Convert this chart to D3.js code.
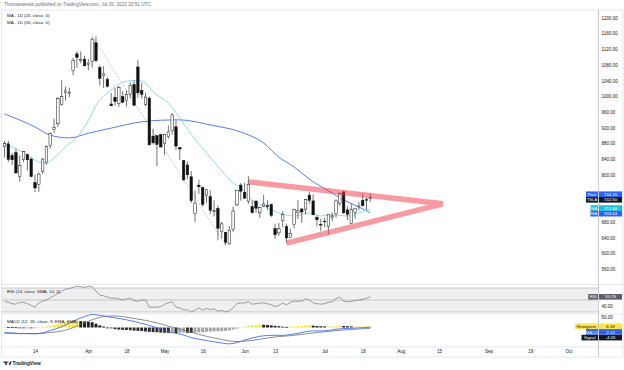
<!DOCTYPE html>
<html>
<head>
<meta charset="UTF-8">
<script src="https://cdnjs.cloudflare.com/ajax/libs/d3/7.8.5/d3.min.js"></script>
<style>
  body { margin: 0; background: #fff; }
  svg { display: block; font-family: "Liberation Sans", Arial, sans-serif; }
  .ax text { fill: #131722; font-size: 4.5px; }
  .ax .domain, .ax line { display: none; }
</style>
</head>
<body>
<svg width="624" height="370"></svg>
<script>
// ---- data (TSLA daily, bar index 0 = Mar 14 2022) ----
var firstIdx = -8;   // Mar 2

var opens = [
  872.1, 878.8, 849.1, 856.3, 795.5, 839.5, 851.5, 840.2, 780.6, 775.3,
  809.0, 831.0, 874.5, 915.0, 930.0, 979.9, 1009.7, 1008.0, 1065.1, 1108.0,
  1091.2, 1094.6, 1081.2, 1089.4, 1136.3, 1073.5, 1052.4, 1043.2, 980.4, 997.6,
  981.1, 999.3, 989.0, 1005.1, 1030.0, 1074.7, 1014.9, 979.0, 995.4, 898.6,
  900.0, 902.7, 880.5, 897.3, 912.1, 922.2, 869.6, 836.0, 825.0, 795.0,
  701.0, 773.5, 767.2, 747.4, 744.5, 707.0, 714.0, 655.0, 653.5, 623.9,
  661.4, 723.3, 773.8, 755.2, 733.0, 719.0, 733.1, 703.0, 720.3, 722.0,
  723.8, 662.7, 652.0, 683.3, 668.2, 640.3, 673.4, 703.4, 713.0, 712.5,
  748.1, 733.5, 691.5, 673.5, 681.0, 669.0, 692.3, 701.8, 727.0, 756.3,
  710.5, 676.5, 704.7, 720.0, 734.8, 735.0, 740.4
];
var highs = [
  886.5, 886.4, 855.7, 866.1, 850.0, 860.6, 854.5, 843.8, 800.7, 805.6,
  842.0, 875.0, 907.9, 942.9, 997.9, 1040.7, 1024.5, 1021.8, 1097.9, 1114.8,
  1114.0, 1103.1, 1094.8, 1149.9, 1152.9, 1079.0, 1076.6, 1048.4, 1008.5, 1021.2,
  1026.2, 1012.7, 1014.9, 1034.9, 1040.0, 1092.2, 1034.9, 1008.6, 1000.0, 918.0,
  900.0, 905.0, 904.5, 925.7, 956.5, 937.8, 871.0, 836.0, 834.0, 809.8,
  759.7, 787.4, 769.8, 764.5, 760.5, 734.7, 721.6, 680.0, 653.9, 669.3,
  718.7, 759.8, 778.8, 779.5, 796.0, 735.0, 734.6, 719.3, 749.0, 734.6,
  727.0, 675.0, 677.1, 707.0, 675.5, 662.9, 713.4, 734.9, 714.8, 738.2,
  756.2, 749.9, 696.0, 688.4, 690.7, 699.4, 703.7, 738.0, 756.0, 759.2,
  719.3, 726.2, 716.0, 730.9, 751.6, 741.4, 752.0
];
var lows = [
  844.3, 832.6, 825.2, 804.6, 782.2, 832.0, 810.4, 793.8, 756.0, 756.6,
  802.3, 825.7, 867.4, 907.1, 921.8, 976.4, 988.8, 997.3, 1053.6, 1073.1,
  1084.0, 1076.6, 1066.6, 1072.5, 1087.3, 1027.7, 1021.5, 1022.4, 974.6, 976.6,
  973.1, 982.2, 973.4, 995.3, 976.5, 996.4, 994.0, 975.3, 875.0, 877.4,
  822.0, 870.0, 850.0, 892.0, 902.0, 862.5, 838.4, 785.0, 788.7, 728.0,
  680.0, 751.6, 719.1, 728.9, 700.8, 694.1, 633.0, 638.1, 620.6, 623.0,
  653.7, 720.5, 734.2, 739.0, 726.0, 701.0, 703.8, 690.0, 717.5, 711.1,
  692.3, 636.7, 644.0, 666.0, 626.1, 639.6, 663.5, 686.7, 677.2, 698.9,
  726.2, 697.0, 668.8, 656.5, 666.4, 648.5, 681.6, 691.0, 720.6, 700.9,
  685.1, 675.1, 688.0, 710.7, 718.8, 710.9, 730.5
];
var closes = [
  879.9, 839.3, 838.3, 804.6, 824.4, 859.0, 838.3, 795.4, 766.4, 801.9,
  840.2, 871.6, 905.4, 921.2, 994.0, 999.1, 1013.9, 1010.6, 1091.8, 1099.6,
  1094.0, 1077.6, 1084.6, 1145.5, 1091.3, 1045.8, 1057.3, 1025.5, 975.9, 987.0,
  1022.4, 985.0, 1004.3, 1028.2, 977.2, 1008.8, 1005.1, 998.0, 876.4, 881.5,
  877.5, 870.8, 902.9, 909.3, 952.6, 873.3, 865.7, 787.1, 800.0, 734.0,
  728.0, 769.6, 724.4, 761.6, 709.8, 709.4, 663.9, 674.9, 628.2, 658.8,
  707.7, 759.6, 758.3, 740.4, 775.0, 703.6, 714.8, 716.7, 725.6, 719.1,
  696.7, 647.2, 662.7, 699.0, 639.3, 650.3, 711.1, 708.3, 705.2, 737.1,
  734.8, 698.0, 685.5, 673.4, 681.8, 699.2, 695.2, 733.6, 752.3, 703.0,
  699.2, 711.1, 714.9, 720.2, 721.6, 736.6, 742.5
];

// moving averages: [bar index, value]
var ma20 = [[-8, 876], [-6, 871], [-2, 850], [1, 833], [3, 830], [5, 843], [8, 871],
  [11, 896], [14, 938], [16, 976], [20, 1016], [23, 1036], [27, 1041], [29, 1034],
  [31, 1011], [35, 983], [38, 945], [41, 903], [45, 856], [49, 810], [52, 779],
  [54, 766], [57, 736], [61, 716], [64, 703], [68, 695], [72, 703], [75, 695],
  [78, 698], [82, 695], [85, 703], [88, 712.68]];
var ma50 = [[-8, 955], [0, 922], [4, 901], [9, 894], [14, 906], [20, 919], [28, 935],
  [33, 939], [38, 940], [46, 927], [54, 909], [60, 881], [64, 845], [68, 820],
  [72, 789], [77, 759], [81, 736], [85, 718], [88, 703.44]];

// drawings: dashed swing line and triangle (bar index, price)
var swingLine = [[15, 1152.9], [50, 620.6]];
var triangle = [[56, 782], [107, 726], [66, 626]];

// RSI (14), one value per bar
var rsi = [
  48, 46, 44, 43, 46, 46, 44, 41, 38, 45,
  48, 50, 54, 57, 61, 64, 68, 69, 71, 73,
  72, 71, 73, 72, 65, 58, 57, 55, 53, 53,
  52, 50, 52, 53, 49, 48, 50, 50, 38, 38,
  38, 39, 43, 45, 47, 38, 37, 33, 34, 30,
  33, 37, 33, 36, 34, 35, 31, 33, 30, 32,
  37, 44, 45, 45, 47, 43, 44, 45, 45, 44,
  42, 39, 41, 45, 42, 46, 48, 48, 48, 52,
  50, 45, 44, 43, 44, 46, 47, 52, 55, 48,
  47, 48, 49, 50, 51, 53, 55.29
];

// MACD (12, 26, 9): lines as [bar index, value], histogram per bar
var macdLine = [[-8, -24], [-4, -29], [0, -30], [2, -25], [4, -15], [7, 4], [9, 21],
  [11, 38], [13, 52], [15, 62], [17, 58], [19, 52], [21, 46], [23, 40], [25, 33],
  [27, 24], [29, 15], [31, 4], [33, -6], [35, -20], [37, -28], [39, -36], [41, -48],
  [43, -56], [45, -62], [47, -68], [49, -74], [51, -78], [53, -72], [55, -60],
  [57, -50], [59, -42], [61, -38], [63, -37], [65, -38], [67, -33], [69, -28],
  [71, -20], [73, -16], [75, -16], [77, -14], [79, -8], [81, -5], [83, -4],
  [85, -2], [87, 0], [88, 2.13]];
var signalLine = [[-8, -27], [-4, -28], [0, -29], [2, -28], [4, -24], [7, -17], [9, -7],
  [11, 7], [13, 22], [15, 37], [17, 48], [19, 54], [21, 55], [23, 52], [25, 46],
  [27, 40], [29, 34], [31, 26], [33, 18], [35, 6], [37, -2], [39, -12], [41, -22],
  [43, -33], [45, -42], [47, -50], [49, -57], [51, -64], [53, -67], [55, -65],
  [57, -62], [59, -56], [61, -50], [63, -45], [65, -42], [67, -39], [69, -35],
  [71, -30], [73, -26], [75, -22], [77, -19], [79, -15], [81, -12], [83, -9],
  [85, -7], [87, -5], [88, -4.05]];
var hist = [
  3, 2.5, 2, 1, -1, -1.5, -1, -1.5, -1, 1,
  3, 6, 9, 13, 17, 21, 25, 28, 30, 31,
  30, 29, 27, 25, 18, 10, 5, 0, -4, -8,
  -10, -11, -12, -13, -15, -16, -17, -19, -21, -22,
  -23, -24, -25, -26, -25, -26, -25, -24, -25, -26,
  -24, -23, -22, -20, -19, -18, -18, -17, -16, -14,
  -10, -5, 0, 5, 9, 12, 13, 14, 13, 12,
  10, 8, 6, 4, 3, 5, 6, 7, 8, 10,
  10, 9, 7, 6, 5, 5, 6, 7, 8, 7,
  6, 5, 5, 5, 5, 5.5, 6.18
];

// axes
var priceTicks = [560, 600, 640, 680, 720, 760, 800, 840, 880, 920, 960, 1000, 1040, 1080, 1120, 1160, 1200];
var rsiTicks = [40, 60];
var macdTicks = [50];
var dateTickIdx = [0, 14, 24, 34, 44, 55, 63, 76, 86, 96, 106, 119, 130, 140];
var dateTickLabels = ["14", "Apr", "18", "May", "16", "Jun", "13", "Jul", "18", "Aug", "15", "Sep", "19", "Oct"];

// last values shown on the right scale
var priceBadgeNames = ["Post", "TSLA", "MA", "MA"];
var priceBadgeValues = [744.30, 742.50, 712.68, 703.44];
var macdBadgeNames = ["Histogram", "MACD", "Signal"];
var macdBadgeValues = [6.18, 2.13, -4.05];

// ---- layout ----
var svg = d3.select("svg");
var plotL = 2, plotR = 598.5;
var mainTop = 10, mainBot = 284.5, rsiTop = 284.5, rsiBot = 314, macdTop = 314, macdBot = 347, frameBot = 357;

var x = d3.scaleLinear().domain([0, 86]).range([35, 362.7]);
var y = d3.scaleLinear().domain([560, 1160]).range([269, 33.5]);
var yR = d3.scaleLinear().domain([30, 70]).range([312, 288]);
var yM = d3.scaleLinear().domain([0, 50]).range([327.5, 317]);

var defs = svg.append("defs");
function clip(id, y0, y1) {
  defs.append("clipPath").attr("id", id).append("rect")
    .attr("x", plotL).attr("y", y0).attr("width", plotR - plotL).attr("height", y1 - y0);
}
clip("cMain", mainTop, mainBot);
clip("cRsi", rsiTop, rsiBot);
clip("cMacd", macdTop, macdBot);

// title
svg.append("text").attr("x", 4).attr("y", 6.3)
  .attr("font-size", "4.7px").attr("fill", "#6a6d78")
  .text("Thomaswestw published on TradingView.com, Jul 20, 2022 20:51 UTC");

// frame and pane separators
var grid = "#dadde4";
svg.append("rect").attr("x", 1.5).attr("y", mainTop).attr("width", 621.5).attr("height", frameBot - mainTop)
  .attr("fill", "none").attr("stroke", grid).attr("stroke-width", 0.7);
[mainBot, rsiBot, macdBot].forEach(function (v) {
  svg.append("line").attr("x1", 1.5).attr("x2", 623).attr("y1", v).attr("y2", v)
    .attr("stroke", grid).attr("stroke-width", 0.7);
});
svg.append("line").attr("x1", plotR).attr("x2", plotR).attr("y1", mainTop).attr("y2", frameBot)
  .attr("stroke", "#b2b5be").attr("stroke-width", 0.7);

// ---- main pane ----
var gMain = svg.append("g").attr("clip-path", "url(#cMain)");
var idxOf = function (i) { return firstIdx + i; };

var lineIP = d3.line().x(function (d) { return x(d[0]); }).y(function (d) { return y(d[1]); });
var smooth = d3.line().curve(d3.curveMonotoneX).x(function (d) { return x(d[0]); }).y(function (d) { return y(d[1]); });

gMain.append("path").attr("d", lineIP(swingLine)).attr("fill", "none")
  .attr("stroke", "#9b9ea6").attr("stroke-width", 0.6).attr("stroke-dasharray", "2,1.6");

gMain.append("path").attr("d", smooth(ma50)).attr("fill", "none")
  .attr("stroke", "#3d6ff2").attr("stroke-width", 0.9);
gMain.append("path").attr("d", smooth(ma20)).attr("fill", "none")
  .attr("stroke", "#6fd3e3").attr("stroke-width", 0.8);

var candles = gMain.append("g");
opens.forEach(function (o, i) {
  var cx = x(idxOf(i)), c = closes[i], up = c >= o;
  candles.append("line").attr("x1", cx).attr("x2", cx)
    .attr("y1", y(highs[i])).attr("y2", y(lows[i]))
    .attr("stroke", "#111").attr("stroke-width", 0.6);
  var top = y(Math.max(o, c)), h = Math.max(0.6, Math.abs(y(o) - y(c)));
  candles.append("rect").attr("x", cx - 1.25).attr("width", 2.5)
    .attr("y", top).attr("height", h)
    .attr("fill", up ? "#ffffff" : "#111").attr("stroke", "#111").attr("stroke-width", 0.5);
});

gMain.append("path").attr("d", lineIP(triangle)).attr("fill", "none")
  .attr("stroke", "#f23645").attr("stroke-opacity", 0.5).attr("stroke-width", 5.5)
  .attr("stroke-linejoin", "miter");

// legend
["MA - 1D (20, close, 0)", "MA - 1D (50, close, 0)"].forEach(function (t, k) {
  svg.append("text").attr("x", 7).attr("y", 17.3 + k * 7).attr("font-size", "4.4px")
    .attr("fill", "#131722").text(t);
});

// ---- RSI pane ----
var gR = svg.append("g").attr("clip-path", "url(#cRsi)");
gR.append("rect").attr("x", plotL).attr("width", plotR - plotL)
  .attr("y", yR(70)).attr("height", yR(30) - yR(70)).attr("fill", "#efeff1");
[70, 50, 30].forEach(function (v) {
  gR.append("line").attr("x1", plotL).attr("x2", plotR).attr("y1", yR(v)).attr("y2", yR(v))
    .attr("stroke", "#a5a7ad").attr("stroke-width", 0.6);
});
gR.append("path").datum(rsi)
  .attr("d", d3.line().x(function (d, i) { return x(idxOf(i)); }).y(function (d) { return yR(d); }))
  .attr("fill", "none").attr("stroke", "#787878").attr("stroke-width", 0.7);
svg.append("text").attr("x", 7).attr("y", 292.8).attr("font-size", "4.4px")
  .attr("fill", "#131722").text("RSI (14, close, SMA, 14, 2)");

// ---- MACD pane ----
var gM = svg.append("g").attr("clip-path", "url(#cMacd)");
var colW = 2.9;
hist.forEach(function (h, i) {
  var prev = i > 0 ? hist[i - 1] : h;
  var col = h >= 0 ? (h >= prev ? "#fbe54a" : "#1e1e1e") : (h < prev ? "#2e2e2e" : "#a2a2a2");
  var y0 = yM(0), y1 = yM(h);
  gM.append("rect").attr("x", x(idxOf(i)) - colW / 2).attr("width", colW)
    .attr("y", Math.min(y0, y1)).attr("height", Math.max(0.8, Math.abs(y1 - y0)))
    .attr("fill", col);
});
var mline = d3.line().curve(d3.curveMonotoneX).x(function (d) { return x(d[0]); }).y(function (d) { return yM(d[1]); });
gM.append("path").attr("d", mline(signalLine)).attr("fill", "none")
  .attr("stroke", "#6e6e6e").attr("stroke-width", 0.8);
gM.append("path").attr("d", mline(macdLine)).attr("fill", "none")
  .attr("stroke", "#3d6ff2").attr("stroke-width", 0.9);
svg.append("text").attr("x", 7).attr("y", 323.2).attr("font-size", "4.4px")
  .attr("fill", "#131722").text("MACD (12, 26, close, 9, EMA, EMA)");

// ---- time axis ----
svg.append("g").attr("class", "ax").attr("transform", "translate(0," + (macdBot + 2.5) + ")")
  .call(d3.axisBottom(x).tickValues(dateTickIdx).tickSize(0).tickPadding(0)
    .tickFormat(function (d, i) { return dateTickLabels[i]; }));

// ---- right-scale badges (placed first, tick labels they cover are dropped) ----
var bh = 5.6;
function place(vals, scale, centre) {
  var ys = vals.map(scale);
  if (centre) {
    for (var k = 0; k < 30; k++) {
      for (var i = 1; i < ys.length; i++) {
        var g = ys[i] - ys[i - 1];
        if (g < bh) { var d = (bh - g) / 2; ys[i - 1] -= d; ys[i] += d; }
      }
    }
  } else {
    for (var j = 1; j < ys.length; j++) ys[j] = Math.max(ys[j], ys[j - 1] + bh + 0.1);
  }
  return ys;
}
var priceY = place(priceBadgeValues, y, true);
var rsiY = [yR(rsi[rsi.length - 1])];
var macdY = place(macdBadgeValues, yM, false);

function freeTicks(ticks, scale, taken) {
  return ticks.filter(function (t) {
    return taken.every(function (b) { return Math.abs(scale(t) - b) > bh / 2 + 2.4; });
  });
}
function rightAxis(scale, ticks, taken) {
  svg.append("g").attr("class", "ax").attr("transform", "translate(" + (plotR + 3) + ",0)")
    .call(d3.axisRight(scale).tickValues(freeTicks(ticks, scale, taken)).tickSize(0).tickPadding(0)
      .tickFormat(function (d) { return d.toFixed(2); }));
}
rightAxis(y, priceTicks, priceY);
rightAxis(yR, rsiTicks, rsiY);
rightAxis(yM, macdTicks, macdY);

function badge(cy, name, val, bg, fg) {
  svg.append("rect").attr("x", plotR + 0.5).attr("y", cy - bh / 2).attr("width", 23).attr("height", bh)
    .attr("fill", bg);
  svg.append("text").attr("x", plotR + 12).attr("y", cy + 1.6).attr("text-anchor", "middle")
    .attr("font-size", "4.4px").attr("fill", fg).text(val);
  var tw = name.length * 2.25 + 3;
  svg.append("rect").attr("x", plotR - 0.5 - tw).attr("y", cy - bh / 2).attr("width", tw).attr("height", bh)
    .attr("fill", bg);
  svg.append("text").attr("x", plotR - 0.5 - tw / 2).attr("y", cy + 1.6).attr("text-anchor", "middle")
    .attr("font-size", "4.2px").attr("fill", fg).text(name);
}
var priceStyle = [["#2962ff", "#fff"], ["#131722", "#fff"], ["#1cc0d6", "#fff"], ["#2962ff", "#fff"]];
priceY.forEach(function (cy, i) {
  badge(cy, priceBadgeNames[i], priceBadgeValues[i].toFixed(2), priceStyle[i][0], priceStyle[i][1]);
});
badge(rsiY[0], "RSI", rsi[rsi.length - 1].toFixed(2), "#5d606b", "#fff");
var macdStyle = [["#fbe54a", "#131722"], ["#2962ff", "#fff"], ["#131722", "#fff"]];
macdY.forEach(function (cy, i) {
  badge(cy, macdBadgeNames[i], macdBadgeValues[i].toFixed(2), macdStyle[i][0], macdStyle[i][1]);
});

// ---- TradingView mark ----
var logo = svg.append("g").attr("transform", "translate(3.5,361.5)").attr("fill", "#131722");
logo.append("path").attr("d", "M0,0 H3.2 V3.6 H1.8 V1.3 H0 Z");
logo.append("circle").attr("cx", 4.3).attr("cy", 0.7).attr("r", 0.7);
logo.append("path").attr("d", "M5.2,3.6 L6.6,0 H8.1 L6.7,3.6 Z");
svg.append("text").attr("x", 12.5).attr("y", 365.2).attr("font-size", "4.8px")
  .attr("fill", "#131722").attr("font-weight", "bold").text("TradingView");
</script>
</body>
</html>
